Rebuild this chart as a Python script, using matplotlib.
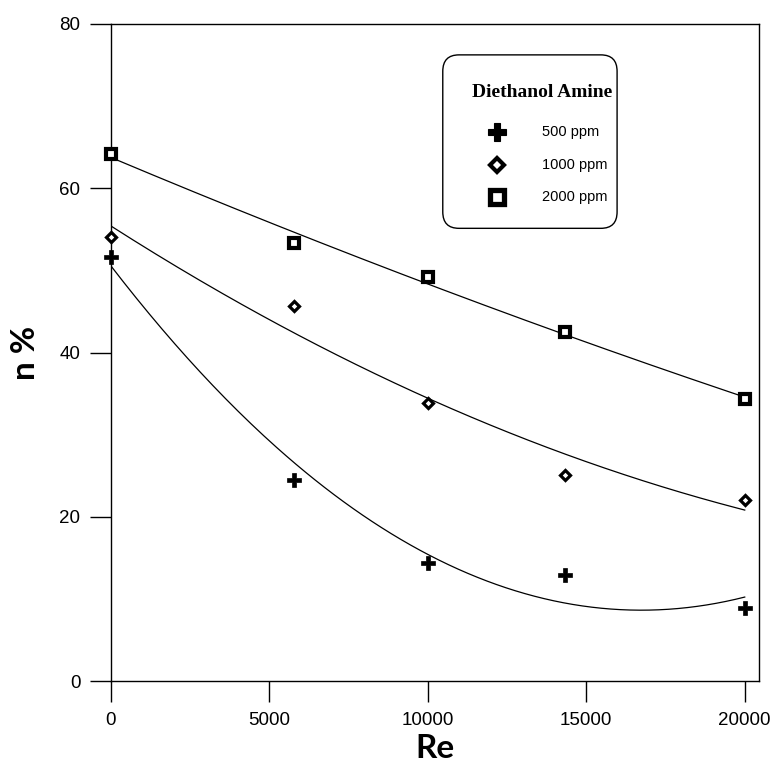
import numpy as np
import matplotlib
matplotlib.use("Agg")
import matplotlib.pyplot as plt
from matplotlib.patches import FancyBboxPatch

# data
re_vals = [0, 5760, 10000, 14330, 20000]
eff_500 = [51.6, 24.5, 14.4, 12.9, 8.9]
eff_1000 = [54.1, 45.7, 33.8, 25.1, 22.0]
eff_2000 = [64.2, 53.3, 49.2, 42.5, 34.3]

labels = ["500 ppm", "1000 ppm", "2000 ppm"]
legend_title = "Diethanol Amine"

plt.rcParams['font.family'] = ['Liberation Sans', 'DejaVu Sans']

fig = plt.figure(figsize=(7.74, 7.76), dpi=100)
ax = fig.add_axes([111 / 774, 1 - 681 / 776, 648 / 774, 657 / 776])

styles = [
    dict(marker='P', ms=9.5, mfc='black', mec='black', mew=0.5),
    dict(marker='D', ms=5.2, mfc='white', mec='black', mew=2.3),
    dict(marker='s', ms=7.6, mfc='white', mec='black', mew=3.0),
]

xs = np.linspace(0, 20000, 200)
for ys, st in zip([eff_500, eff_1000, eff_2000], styles):
    coef = np.polyfit(re_vals, ys, 2)
    ax.plot(xs, np.polyval(coef, xs), color='black', lw=0.9)
    ax.plot(re_vals, ys, ls='none', clip_on=False, zorder=5, **st)

ax.set_xlim(0, 20450)
ax.set_ylim(0, 80)
ax.set_xticks([0, 5000, 10000, 15000, 20000])
ax.set_yticks([0, 20, 40, 60, 80])
ax.tick_params(direction='out', length=15, width=1, labelsize=13.5, pad=7)
for sp in ax.spines.values():
    sp.set_linewidth(1)

ax.set_xlabel("Re", fontsize=24, fontweight='bold', family='Lato', labelpad=4)
ax.set_ylabel("n %", fontsize=24, fontweight='bold', family='Lato', labelpad=14)

# legend box drawn by hand
box = FancyBboxPatch((0.512, 0.689), 0.269, 0.264, transform=ax.transAxes,
                     boxstyle="round,pad=0,rounding_size=0.025",
                     fc='white', ec='black', lw=1, zorder=6)
ax.add_patch(box)
ax.text(0.665, 0.895, legend_title, transform=ax.transAxes, ha='center', va='center',
        family='Liberation Serif', fontweight='bold', fontsize=14, zorder=7)
leg_y = [0.836, 0.785, 0.737]
leg_styles = [
    dict(marker='P', ms=13.5, mfc='black', mec='black', mew=0.8),
    dict(marker='D', ms=7.0, mfc='white', mec='black', mew=3.0),
    dict(marker='s', ms=10, mfc='white', mec='black', mew=3.8),
]
for lab, y, st in zip(labels, leg_y, leg_styles):
    ax.plot([0.596], [y], transform=ax.transAxes, ls='none', zorder=7, **st)
    ax.text(0.665, y, lab, transform=ax.transAxes, va='center', fontsize=10.5, zorder=7)

fig.savefig("out.png", dpi=100)
